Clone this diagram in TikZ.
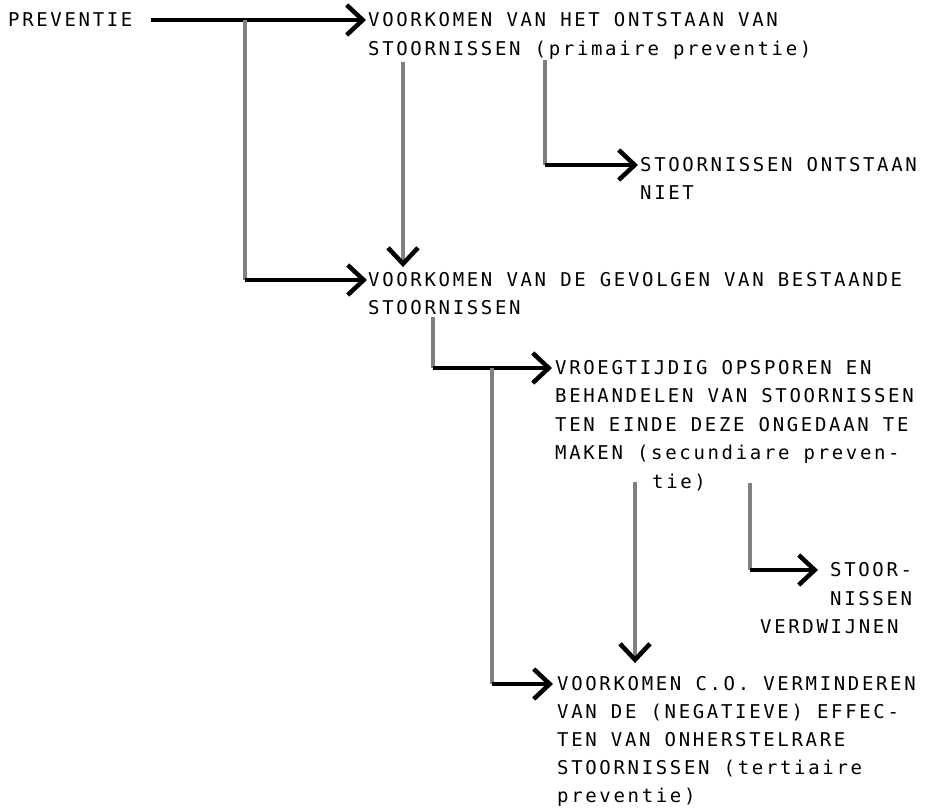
\documentclass[tikz,border=0pt]{standalone}
\usepackage{fontspec}
\newfontfamily\typefont[LetterSpace=14]{DejaVu Sans Mono}
\usetikzlibrary{arrows.meta}

\begin{document}
\begin{tikzpicture}[x=1pt, y=-1pt, >={Straight Barb[length=16pt, width=30pt, line width=4.5pt, color=black]},
    every node/.style={inner sep=0pt},
    txt/.style={anchor=west, text height=13.5pt, text depth=0pt, font=\typefont\fontsize{19pt}{28pt}\selectfont},
    hline/.style={black, line width=4pt},
    vline/.style={black!50, line width=3.5pt}]
    \useasboundingbox (0,0) rectangle (936,807);

    % Start
    \node[txt] (prev) at (8,20) {PREVENTIE};

    % Primaire preventie (x=368)
    \node[txt] (vkA1) at (368,20) {VOORKOMEN VAN HET ONTSTAAN VAN};
    \node[txt] (vkA2) at (368,49) {STOORNISSEN (primaire preventie)};
    \node[txt] (nietB1) at (640,165) {STOORNISSEN ONTSTAAN};
    \node[txt] (nietB2) at (640,193) {NIET};

    % Gevolgen (x=368)
    \node[txt] (vkC1) at (368,280) {VOORKOMEN VAN DE GEVOLGEN VAN BESTAANDE};
    \node[txt] (vkC2) at (368,308) {STOORNISSEN};

    % Secundaire preventie (x=555)
    \node[txt] (vrD1) at (555,368) {VROEGTIJDIG OPSPOREN EN};
    \node[txt] (vrD2) at (555,396) {BEHANDELEN VAN STOORNISSEN};
    \node[txt] (vrD3) at (555,425) {TEN EINDE DEZE ONGEDAAN TE};
    \node[txt] (vrD4) at (555,453) {MAKEN (secundiare preven-};
    \node[txt] (vrD5) at (652,482) {tie)};

    % Verdwijnen (x=830)
    \node[txt] (vwF1) at (830,570) {STOOR-};
    \node[txt] (vwF2) at (830,599) {NISSEN};
    \node[txt] (vwF3) at (760,627) {VERDWIJNEN};

    % Tertiaire preventie (x=557)
    \node[txt] (vkE1) at (557,684) {VOORKOMEN C.O. VERMINDEREN};
    \node[txt] (vkE2) at (557,712) {VAN DE (NEGATIEVE) EFFEC-};
    \node[txt] (vkE3) at (557,740) {TEN VAN ONHERSTELRARE};
    \node[txt] (vkE4) at (557,768) {STOORNISSEN (tertiaire};
    \node[txt] (vkE5) at (557,796) {preventie)};

    % Branch points
    \coordinate (splitP) at (245,20);
    \coordinate (outA) at (403,62);
    \coordinate (cornA) at (545,60);
    \coordinate (cornC) at (433,317);
    \coordinate (splitC) at (492,368);
    \coordinate (outD) at (635,482);
    \coordinate (cornD) at (750,483);

    % Preventie arrows
    \draw[hline, ->, shorten >=2pt] ([xshift=18pt]prev.east) -- (vkA1.west);
    \draw[vline] (splitP) -- (splitP |- vkC1.west);
    \draw[hline, ->, shorten >=1pt] (splitP |- vkC1.west) -- (vkC1.west);

    % Primaire arrows
    \draw[vline, ->, shorten >=6pt] (outA) -- (outA |- vkC1.north);
    \draw[vline] (cornA) -- (cornA |- nietB1.west);
    \draw[hline, ->, shorten >=2pt] (cornA |- nietB1.west) -- (nietB1.west);

    % Gevolgen arrows
    \draw[vline] (cornC) -- (cornC |- vrD1.west);
    \draw[hline, ->, shorten >=3pt] (cornC |- vrD1.west) -- (vrD1.west);
    \draw[vline] (splitC) -- (splitC |- vkE1.west);
    \draw[hline, ->, shorten >=4pt] (splitC |- vkE1.west) -- (vkE1.west);

    % Secundaire arrows
    \draw[vline, ->, shorten >=14pt] (outD) -- (outD |- vkE1.north);
    \draw[vline] (cornD) -- (cornD |- vwF1.west);
    \draw[hline, ->, shorten >=12pt] (cornD |- vwF1.west) -- (vwF1.west);
\end{tikzpicture}
\end{document}
